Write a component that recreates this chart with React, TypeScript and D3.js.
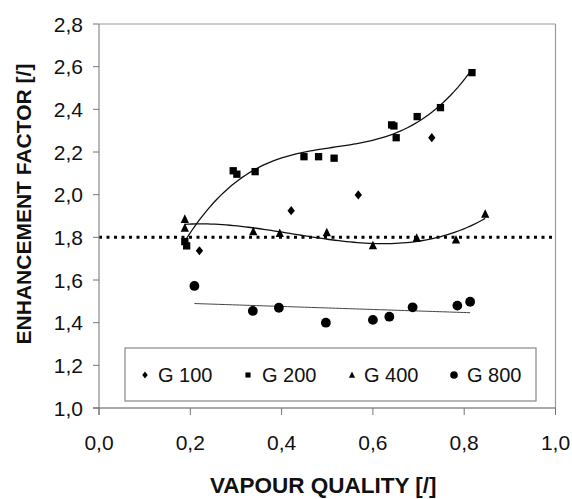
import React from "react";
import * as d3 from "d3";

const xTicks = [0, 0.2, 0.4, 0.6, 0.8, 1.0];
const yTicks = [1.0, 1.2, 1.4, 1.6, 1.8, 2.0, 2.2, 2.4, 2.6, 2.8];
const refLevel = 1.8;

const g100X = [0.22, 0.421, 0.568, 0.729];
const g100Y = [1.737, 1.925, 1.999, 2.267];

const g200X = [0.188, 0.192, 0.294, 0.302, 0.342, 0.449, 0.481, 0.515, 0.641, 0.646, 0.651, 0.697, 0.748, 0.817];
const g200Y = [1.78, 1.76, 2.112, 2.096, 2.108, 2.178, 2.178, 2.171, 2.327, 2.322, 2.267, 2.366, 2.408, 2.572];

const g400X = [0.188, 0.188, 0.338, 0.396, 0.499, 0.6, 0.696, 0.782, 0.846];
const g400Y = [1.885, 1.843, 1.827, 1.819, 1.822, 1.761, 1.796, 1.788, 1.909];

const g800X = [0.209, 0.337, 0.394, 0.497, 0.6, 0.636, 0.687, 0.785, 0.813];
const g800Y = [1.572, 1.455, 1.47, 1.4, 1.413, 1.428, 1.472, 1.48, 1.498];

const legendLabels = ["G 100", "G 200", "G 400", "G 800"];

function polyFit(xs: number[], ys: number[], order: number): number[] {
  const n = order + 1;
  const A: number[][] = [];
  for (let i = 0; i < n; i++) {
    A.push(new Array(n + 1).fill(0));
    for (let j = 0; j < n; j++) {
      A[i][j] = d3.sum(xs, (x) => Math.pow(x, i + j));
    }
    A[i][n] = d3.sum(xs.map((x, k) => Math.pow(x, i) * ys[k]));
  }
  for (let c = 0; c < n; c++) {
    let p = c;
    for (let r = c + 1; r < n; r++) if (Math.abs(A[r][c]) > Math.abs(A[p][c])) p = r;
    [A[c], A[p]] = [A[p], A[c]];
    for (let r = 0; r < n; r++) {
      if (r === c) continue;
      const f = A[r][c] / A[c][c];
      for (let k = c; k <= n; k++) A[r][k] -= f * A[c][k];
    }
  }
  return A.map((row, i) => row[n] / row[i]);
}

function trendPoints(xs: number[], ys: number[], order: number): [number, number][] {
  const coef = polyFit(xs, ys, order);
  const [lo, hi] = d3.extent(xs) as [number, number];
  const pts: [number, number][] = [];
  const steps = 80;
  for (let i = 0; i <= steps; i++) {
    const x = lo + ((hi - lo) * i) / steps;
    const y = coef.reduce((s, c, k) => s + c * Math.pow(x, k), 0);
    pts.push([x, y]);
  }
  return pts;
}

const W = 572;
const H = 499;
const L = 99;
const R = 555.5;
const T = 24;
const B = 408;

const fontFam = "Arial, 'Liberation Sans', sans-serif";

function Marker({ kind, x, y, s }: { kind: number; x: number; y: number; s: number }) {
  if (kind === 0) {
    return <path d={`M${x},${y - s}L${x + s * 0.8},${y}L${x},${y + s}L${x - s * 0.8},${y}Z`} fill="#000" />;
  }
  if (kind === 1) {
    return <rect x={x - s * 0.85} y={y - s * 0.85} width={s * 1.7} height={s * 1.7} fill="#000" />;
  }
  if (kind === 2) {
    return <path d={`M${x},${y - s * 1.05}L${x + s * 0.9},${y + s * 0.8}L${x - s * 0.9},${y + s * 0.8}Z`} fill="#000" />;
  }
  return <circle cx={x} cy={y} r={s} fill="#000" />;
}

export default function App() {
  const xs = d3.scaleLinear().domain([0, 1]).range([L, R]);
  const ys = d3.scaleLinear().domain([1, 2.8]).range([B, T]);
  const line = d3
    .line<[number, number]>()
    .x((d) => xs(d[0]))
    .y((d) => ys(d[1]))
    .curve(d3.curveLinear);

  const t200 = trendPoints(g200X, g200Y, 3);
  const t400 = trendPoints(g400X, g400Y, 3);
  const t800 = trendPoints(g800X, g800Y, 1);

  const series = [
    { xs: g100X, ys: g100Y, size: 4.6 },
    { xs: g200X, ys: g200Y, size: 4.3 },
    { xs: g400X, ys: g400Y, size: 4.6 },
    { xs: g800X, ys: g800Y, size: 4.9 },
  ];

  const legendSym = [145, 248, 352, 454];
  const legendTxt = [158, 262, 364, 467];
  const legendSize = [3.4, 3.0, 3.4, 3.8];
  const fmt = (v: number) => v.toFixed(1).replace(".", ",");

  return (
    <svg width={W} height={H} style={{ position: "absolute", left: 0, top: 0 }}>
      <rect x={0} y={0} width={W} height={H} fill="#fff" />
      {/* frame */}
      <line x1={L} y1={T} x2={R} y2={T} stroke="#9a9a9a" strokeWidth={1.2} />
      <line x1={R} y1={T} x2={R} y2={B} stroke="#9a9a9a" strokeWidth={1.2} />
      {/* reference dotted line */}
      <line
        x1={L}
        x2={R}
        y1={ys(refLevel)}
        y2={ys(refLevel)}
        stroke="#000"
        strokeWidth={3}
        strokeDasharray="3,4.5"
      />
      {/* axes */}
      <line x1={L} y1={T} x2={L} y2={B + 7} stroke="#888" strokeWidth={1.2} />
      <line x1={L - 6} y1={B} x2={R} y2={B} stroke="#555" strokeWidth={1.2} />
      {yTicks.map((v) => (
        <g key={"y" + v}>
          <line x1={L - 6} x2={L} y1={ys(v)} y2={ys(v)} stroke="#777" strokeWidth={1} />
          <text
            x={83}
            y={ys(v)}
            dy="0.36em"
            textAnchor="end"
            fontSize={21}
            fontFamily={fontFam}
            fill="#111"
          >
            {fmt(v)}
          </text>
        </g>
      ))}
      {xTicks.map((v) => (
        <g key={"x" + v}>
          <line x1={xs(v)} x2={xs(v)} y1={B} y2={B + 7} stroke="#777" strokeWidth={1} />
          <text x={xs(v)} y={450} textAnchor="middle" fontSize={21} fontFamily={fontFam} fill="#111">
            {fmt(v)}
          </text>
        </g>
      ))}
      {/* trend lines */}
      <path d={line(t200) || ""} fill="none" stroke="#111" strokeWidth={1.3} />
      <path d={line(t400) || ""} fill="none" stroke="#111" strokeWidth={1.3} />
      <path d={line(t800) || ""} fill="none" stroke="#444" strokeWidth={1} />
      {/* points */}
      {series.map((s, k) =>
        s.xs.map((x, i) => <Marker key={k + "-" + i} kind={k} x={xs(x)} y={ys(s.ys[i])} s={s.size} />)
      )}
      {/* legend */}
      <rect x={125} y={348} width={411} height={53} fill="#fff" stroke="#888" strokeWidth={1.2} />
      {legendLabels.map((lab, k) => (
        <g key={lab}>
          <Marker kind={k} x={legendSym[k]} y={375} s={legendSize[k]} />
          <text x={legendTxt[k]} y={382} fontSize={20} fontFamily={fontFam} fill="#111">
            {lab}
          </text>
        </g>
      ))}
      {/* titles */}
      <text
        x={(L + R) / 2 - 4}
        y={493}
        textAnchor="middle"
        fontSize={22.5}
        fontWeight="bold"
        fontFamily={fontFam}
        fill="#111"
      >
        VAPOUR QUALITY [/]
      </text>
      <text
        transform={`translate(31,204) rotate(-90)`}
        textAnchor="middle"
        fontSize={21}
        fontWeight="bold"
        fontFamily={fontFam}
        fill="#111"
      >
        ENHANCEMENT FACTOR [/]
      </text>
    </svg>
  );
}
